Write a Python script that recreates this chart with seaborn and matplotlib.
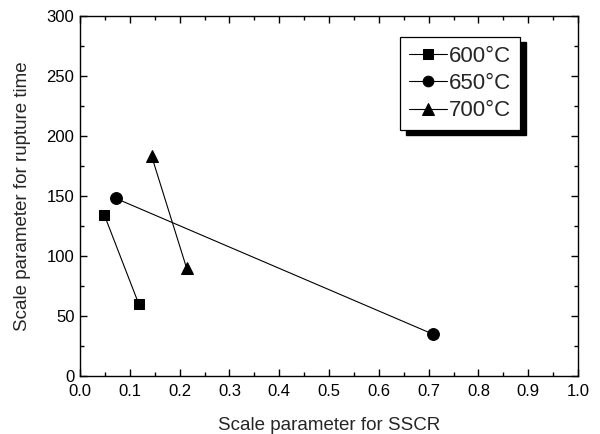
import matplotlib
matplotlib.use("Agg")
import matplotlib.pyplot as plt
import seaborn as sns
import pandas as pd
from matplotlib.patches import Rectangle
from matplotlib.ticker import MultipleLocator, FormatStrFormatter

sns.set_style("ticks")
plt.rcParams['font.family'] = ['Liberation Sans', 'DejaVu Sans']

temps = ["600°C", "650°C", "700°C"]
sscr_600 = [0.049, 0.118]
rupt_600 = [134, 60]
sscr_650 = [0.072, 0.708]
rupt_650 = [148, 35]
sscr_700 = [0.144, 0.214]
rupt_700 = [183, 90]

series = {
    "600°C": (sscr_600, rupt_600),
    "650°C": (sscr_650, rupt_650),
    "700°C": (sscr_700, rupt_700),
}
markers = {"600°C": "s", "650°C": "o", "700°C": "^"}
msizes = {"600°C": 7.5, "650°C": 8.5, "700°C": 9}

rows = []
for t in temps:
    xs, ys = series[t]
    for x, y in zip(xs, ys):
        rows.append({"T": t, "SSCR": x, "Rupture": y})
df = pd.DataFrame(rows)

fig = plt.figure(figsize=(6.0, 4.34), dpi=100)
ax = fig.add_axes([80/600, 58/434, 498/600, 360/434])

for t in temps:
    sub = df[df["T"] == t]
    sns.lineplot(data=sub, x="SSCR", y="Rupture", ax=ax, color="black",
                 marker=markers[t], markersize=msizes[t], markeredgecolor="black",
                 linewidth=0.8, sort=False, label=t, estimator=None)

ax.set_xlim(0, 1.0)
ax.set_ylim(0, 300)
ax.xaxis.set_major_locator(MultipleLocator(0.1))
ax.xaxis.set_minor_locator(MultipleLocator(0.05))
ax.yaxis.set_major_locator(MultipleLocator(50))
ax.yaxis.set_minor_locator(MultipleLocator(25))
ax.xaxis.set_major_formatter(FormatStrFormatter('%.1f'))
ax.tick_params(which='both', direction='in', top=True, right=True, width=1, colors='black')
ax.tick_params(which='major', length=5, labelsize=12)
ax.tick_params(axis='x', which='major', pad=6)
ax.tick_params(axis='y', which='major', pad=4)
ax.tick_params(which='minor', length=3)
for s in ax.spines.values():
    s.set_visible(True)
    s.set_linewidth(1.0)
    s.set_color('black')

ax.set_xlabel("Scale parameter for SSCR", fontsize=13.5, labelpad=13)
ax.set_ylabel("Scale parameter for rupture time", fontsize=13.5, labelpad=11)

leg = ax.legend(loc='upper left', bbox_to_anchor=((400-80)/498, (376-37)/360),
                borderaxespad=0, fontsize=16, frameon=True, fancybox=False,
                handlelength=1.7, handletextpad=0.12, borderpad=0.4,
                labelspacing=0.28, edgecolor='black', facecolor='white',
                framealpha=1, markerscale=0.9)
leg.get_frame().set_linewidth(0.9)
leg.set_zorder(5)

fig.canvas.draw()
bb = leg.get_window_extent()
shadow = Rectangle((bb.x0 + 6, bb.y0 - 5), bb.width, bb.height,
                   transform=None, facecolor='black', edgecolor='black', zorder=4)
ax.add_artist(shadow)

fig.savefig("out.png", dpi=100)
